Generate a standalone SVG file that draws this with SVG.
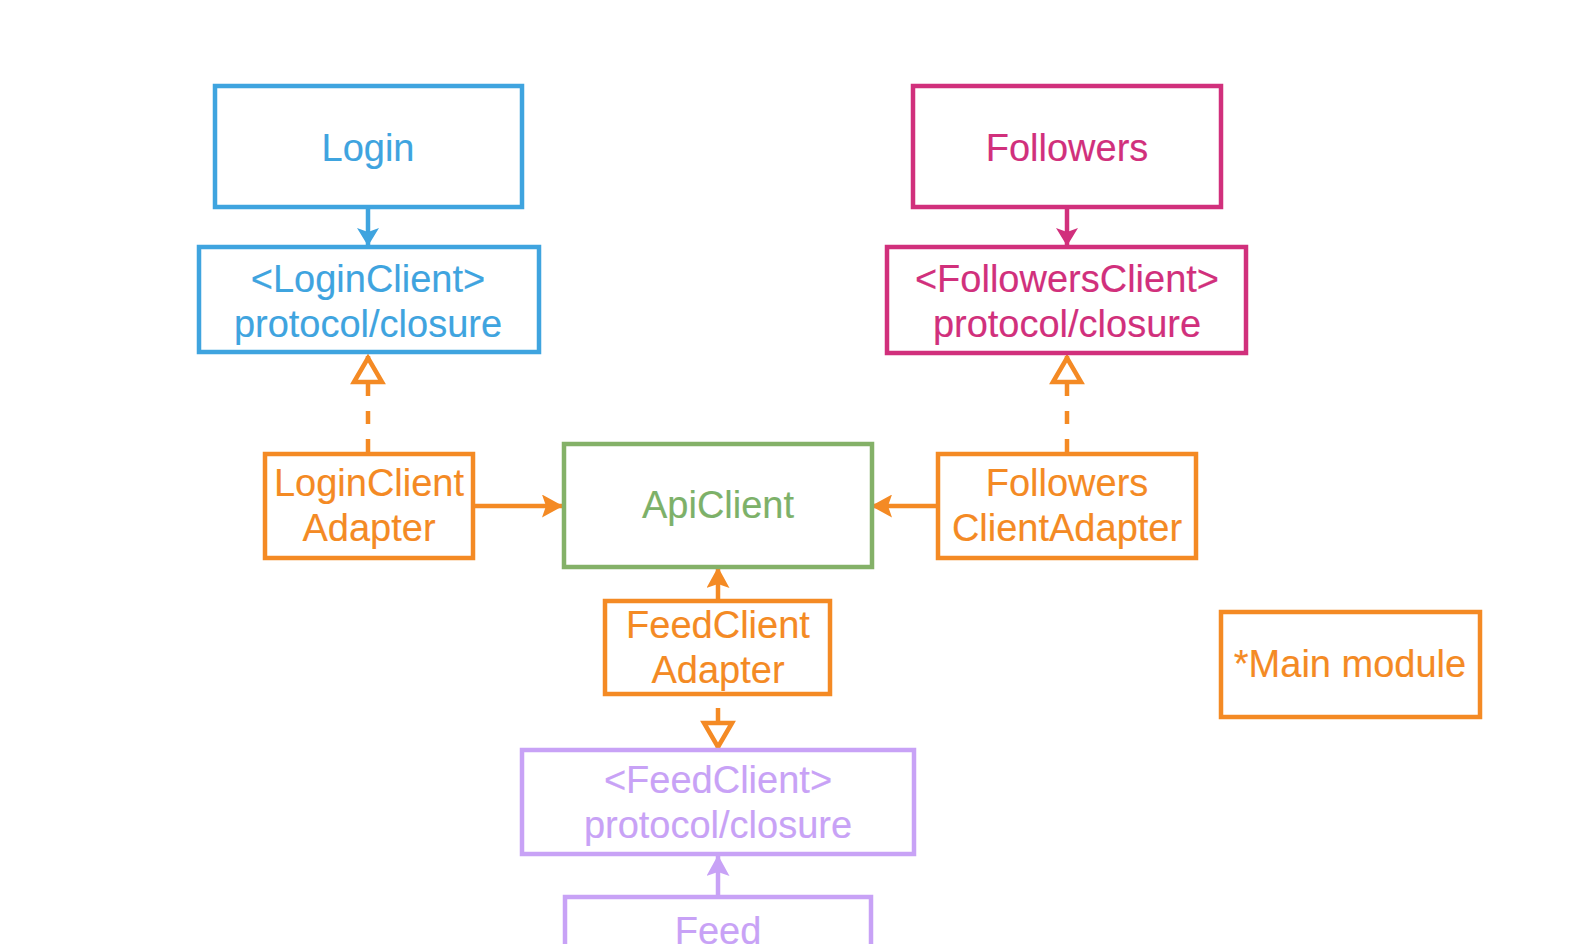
<svg xmlns="http://www.w3.org/2000/svg" width="1584" height="944" viewBox="0 0 1584 944">
<style>
  .box { fill: #ffffff; stroke-width: 4.5; }
  .t { font-family: "Liberation Sans", Arial, Helvetica, sans-serif; font-size: 38px; text-anchor: middle; stroke-width: 0.15; }
  .blue { stroke: #3fa4df; } .tblue { fill: #3fa4df; stroke: #3fa4df; }
  .pink { stroke: #d1307c; } .tpink { fill: #d1307c; stroke: #d1307c; }
  .orange { stroke: #f48a24; } .torange { fill: #f48a24; stroke: #f48a24; }
  .green { stroke: #84b168; } .tgreen { fill: #7db169; stroke: #7db169; }
  .purple { stroke: #c8a2f6; } .tpurple { fill: #c8a2f6; stroke: #c8a2f6; }
  .line { fill: none; stroke-width: 4.5; }
  .dash { stroke-dasharray: 13 15; }
</style>
<defs>
  <marker id="mBlue" markerUnits="userSpaceOnUse" viewBox="0 0 18 22" refX="18" refY="11" markerWidth="18" markerHeight="22" orient="auto">
    <path d="M0,0 L18,11 L0,22 L4,11 Z" fill="#3fa4df"/>
  </marker>
  <marker id="mPink" markerUnits="userSpaceOnUse" viewBox="0 0 18 22" refX="18" refY="11" markerWidth="18" markerHeight="22" orient="auto">
    <path d="M0,0 L18,11 L0,22 L4,11 Z" fill="#d1307c"/>
  </marker>
  <marker id="mOrange" markerUnits="userSpaceOnUse" viewBox="0 0 21 23" refX="21" refY="11.5" markerWidth="21" markerHeight="23" orient="auto">
    <path d="M0,0 L21,11.5 L0,23 L4,11.5 Z" fill="#f48a24"/>
  </marker>
  <marker id="mPurple" markerUnits="userSpaceOnUse" viewBox="0 0 21 23" refX="21" refY="11.5" markerWidth="21" markerHeight="23" orient="auto">
    <path d="M0,0 L21,11.5 L0,23 L4,11.5 Z" fill="#c8a2f6"/>
  </marker>
  <marker id="mOpen" markerUnits="userSpaceOnUse" viewBox="-5 -5 40 38" refX="28" refY="14" markerWidth="40" markerHeight="38" orient="auto" overflow="visible">
    <path d="M2,0 L26,14 L2,28 Z" fill="#ffffff" stroke="#f48a24" stroke-width="4.5" stroke-linejoin="miter"/>
  </marker>
</defs>
<rect x="0" y="0" width="1584" height="944" fill="#ffffff"/>

<g id="connectors">
  <path class="line blue" d="M368,209 L368,246" marker-end="url(#mBlue)"/>
  <path class="line pink" d="M1067,209 L1067,246" marker-end="url(#mPink)"/>
  <path class="line orange dash" d="M368,452 L368,356" marker-end="url(#mOpen)"/>
  <path class="line orange dash" d="M1067,452 L1067,356" marker-end="url(#mOpen)"/>
  <path class="line orange" d="M475,506 L563,506" marker-end="url(#mOrange)"/>
  <path class="line orange" d="M936,506 L871,506" marker-end="url(#mOrange)"/>
  <path class="line orange" d="M718,599 L718,567" marker-end="url(#mOrange)"/>
  <path class="line orange" d="M718,708 L718,749" marker-end="url(#mOpen)"/>
  <path class="line purple" d="M718,895 L718,855" marker-end="url(#mPurple)"/>
</g>

<g id="login">
  <rect class="box blue" x="215" y="86" width="307" height="121"/>
  <text class="t tblue" x="368" y="161">Login</text>
</g>
<g id="loginclient">
  <rect class="box blue" x="199" y="247" width="340" height="105"/>
  <text class="t tblue" x="368" y="292">&lt;LoginClient&gt;</text>
  <text class="t tblue" x="368" y="337">protocol/closure</text>
</g>
<g id="followers">
  <rect class="box pink" x="913" y="86" width="308" height="121"/>
  <text class="t tpink" x="1067" y="161">Followers</text>
</g>
<g id="followersclient">
  <rect class="box pink" x="887" y="247" width="359" height="106"/>
  <text class="t tpink" x="1067" y="292">&lt;FollowersClient&gt;</text>
  <text class="t tpink" x="1067" y="337">protocol/closure</text>
</g>
<g id="loginclientadapter">
  <rect class="box orange" x="265" y="454" width="208" height="104"/>
  <text class="t torange" x="369" y="496">LoginClient</text>
  <text class="t torange" x="369" y="541">Adapter</text>
</g>
<g id="apiclient">
  <rect class="box green" x="564" y="444" width="308" height="123"/>
  <text class="t tgreen" x="718" y="518">ApiClient</text>
</g>
<g id="followersclientadapter">
  <rect class="box orange" x="938" y="454" width="258" height="104"/>
  <text class="t torange" x="1067" y="496">Followers</text>
  <text class="t torange" x="1067" y="541">ClientAdapter</text>
</g>
<g id="feedclientadapter">
  <rect class="box orange" x="605" y="601" width="225" height="93"/>
  <text class="t torange" x="718" y="638">FeedClient</text>
  <text class="t torange" x="718" y="683">Adapter</text>
</g>
<g id="feedclient">
  <rect class="box purple" x="522" y="750" width="392" height="104"/>
  <text class="t tpurple" x="718" y="793">&lt;FeedClient&gt;</text>
  <text class="t tpurple" x="718" y="838">protocol/closure</text>
</g>
<g id="feed">
  <rect class="box purple" x="565" y="897" width="306" height="110"/>
  <text class="t tpurple" x="718" y="944">Feed</text>
</g>
<g id="mainmodule">
  <rect class="box orange" x="1221" y="612" width="259" height="105"/>
  <text class="t torange" x="1350" y="677">*Main module</text>
</g>
</svg>
